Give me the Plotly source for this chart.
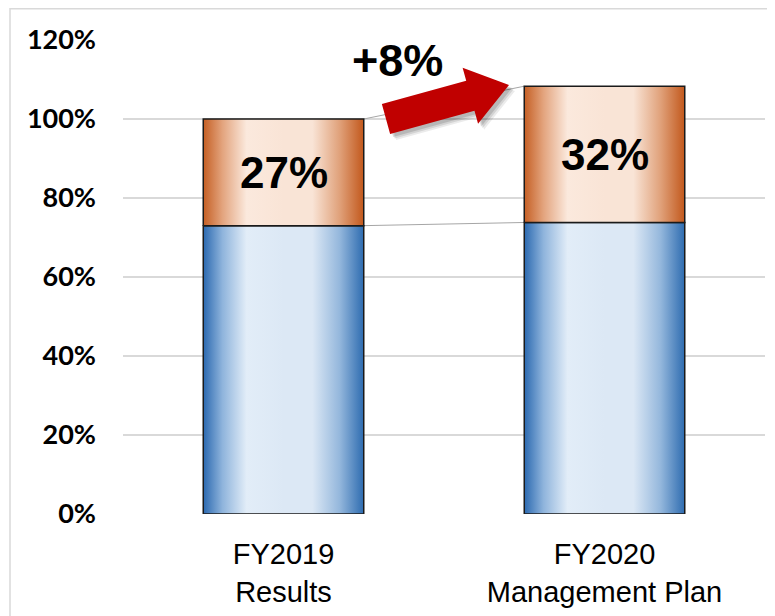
import plotly.graph_objects as go
import math

categories = ["FY2019<br>Results", "FY2020<br>Management Plan"]
base_values = [73.0, 73.8]
top_values = [27.0, 34.5]
top_labels = ["27%", "32%"]
change_label = "+8%"
y_ticks = [0, 20, 40, 60, 80, 100, 120]

BAR_W = 0.5
blue_scale = [[0.0, "#2B69B0"], [0.12, "#8FB4DC"], [0.27, "#E2EDF8"], [0.5, "#DCE8F5"],
              [0.68, "#DCE8F5"], [0.85, "#94B7DC"], [1.0, "#2E6CB0"]]
orange_scale = [[0.0, "#C55F24"], [0.12, "#E3A47E"], [0.27, "#FBE9DD"], [0.5, "#F9E4D6"],
                [0.68, "#F9E4D6"], [0.85, "#E0A17A"], [1.0, "#C2581C"]]

# screen-pixel geometry of plot area (page body has an 8px margin)
OFF = 8
L, R, T, B = 123, 765, 40, 514
W, H = 775, 616

def px2x(px):
    return -0.5 + (px - L) / (R - L) * 2.0
def py2y(py):
    return (B - py) / (B - T) * 120.0

fig = go.Figure()

xs = list(range(len(categories)))
tops = [b + t for b, t in zip(base_values, top_values)]
fig.add_trace(go.Scatter(x=[xs[0] + BAR_W / 2, xs[1] - BAR_W / 2], y=[tops[0], tops[1]],
                         mode="lines", line=dict(color="#A6A6A6", width=1), showlegend=False, hoverinfo="skip"))
fig.add_trace(go.Scatter(x=[xs[0] + BAR_W / 2, xs[1] - BAR_W / 2], y=[base_values[0], base_values[1]],
                         mode="lines", line=dict(color="#A6A6A6", width=1), showlegend=False, hoverinfo="skip"))

def seg(xc, y0, y1, scale):
    x0, x1 = xc - BAR_W / 2, xc + BAR_W / 2
    fig.add_trace(go.Scatter(
        x=[x0, x1, x1, x0, x0], y=[y0, y0, y1, y1, y0], mode="lines",
        fill="toself", fillgradient=dict(type="horizontal", colorscale=scale),
        line=dict(color="#1A1A1A", width=1.5), showlegend=False, hoverinfo="skip"))

for i, xc in enumerate(xs):
    seg(xc, 0, base_values[i], blue_scale)
    seg(xc, base_values[i], tops[i], orange_scale)
    fig.add_annotation(x=xc, y=base_values[i] + top_values[i] / 2, text=top_labels[i], showarrow=False,
                       font=dict(family="Liberation Sans", size=44, color="#000000"),
                       xanchor="center", yanchor="middle")

# red block arrow (decoration)
tail = (386.0, 119.0)
tip = (509.0, 85.0)
dx, dy = tip[0] - tail[0], tip[1] - tail[1]
ln = math.hypot(dx, dy)
ux, uy = dx / ln, dy / ln
nx, ny = -uy, ux
sw, hw, base_d = 15.5, 29.0, 87.5
bx, by = tail[0] + ux * base_d, tail[1] + uy * base_d
pts = [
    (tail[0] - nx * sw, tail[1] - ny * sw),
    (bx - nx * sw, by - ny * sw),
    (bx - nx * hw, by - ny * hw),
    tip,
    (bx + nx * hw, by + ny * hw),
    (bx + nx * sw, by + ny * sw),
    (tail[0] + nx * sw, tail[1] + ny * sw),
]
def path(points, ox=0, oy=0):
    s = ""
    for k, (a, b) in enumerate(points):
        s += ("M" if k == 0 else "L") + f"{px2x(a + ox):.5f},{py2y(b + oy):.5f} "
    return s + "Z"

for o, op in [(6, 0.08), (4.5, 0.10), (3, 0.13)]:
    fig.add_shape(type="path", path=path(pts, o, o), xref="x", yref="y",
                  fillcolor=f"rgba(0,0,0,{op})", line=dict(width=0), layer="above")
fig.add_shape(type="path", path=path(pts), xref="x", yref="y",
              fillcolor="#C00000", line=dict(width=0), layer="above")

fig.add_annotation(x=px2x(397), y=py2y(60), text=change_label, showarrow=False,
                   font=dict(family="Liberation Sans", size=45, color="#000000"),
                   xanchor="center", yanchor="middle")

# outer frame
fx = (10 - L) / (R - L)
fy_top = (B - 8.8) / (B - T)
fy_bot = (B - 700) / (B - T)
fx_r = (900 - L) / (R - L)
fig.add_shape(type="path", xref="paper", yref="paper",
              path=f"M{fx:.5f},{fy_bot:.5f} L{fx:.5f},{fy_top:.5f} L{fx_r:.5f},{fy_top:.5f}",
              line=dict(color="#D9D9D9", width=1.5))

fig.update_layout(
    width=W, height=H,
    margin=dict(l=L - OFF, r=W - (R - OFF), t=T - OFF, b=H - (B - OFF), autoexpand=False),
    plot_bgcolor="white", paper_bgcolor="white",
    showlegend=False,
    xaxis=dict(range=[-0.5, 1.5], tickvals=xs, ticktext=categories, showgrid=False, zeroline=False,
               showline=False, ticks="", ticklabelstandoff=20,
               tickfont=dict(family="Liberation Sans", size=29, color="#000000")),
    yaxis=dict(range=[0, 120], tickvals=y_ticks, ticktext=[f"{v}%" for v in y_ticks],
               showgrid=True, gridcolor="#D9D9D9", gridwidth=1.5, zeroline=False, showline=False, ticks="",
               ticklabelstandoff=26,
               tickfont=dict(family="Lato", size=27, color="#000000", weight="bold")),
)
fig.update_annotations(font_weight="bold")
fig.write_html("out.html")
